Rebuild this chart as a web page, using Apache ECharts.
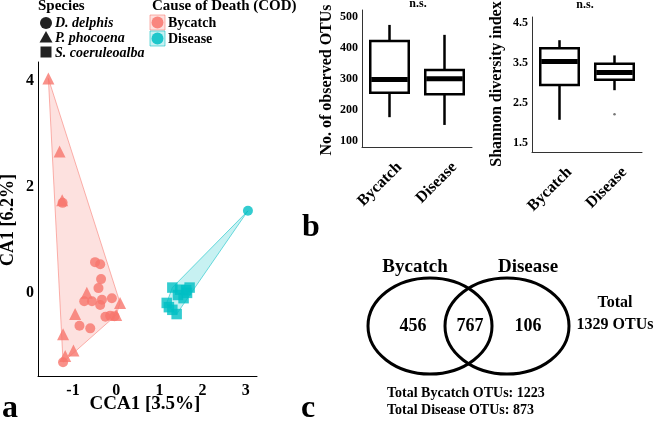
<!DOCTYPE html>
<html><head><meta charset="utf-8">
<script src="https://cdn.jsdelivr.net/npm/echarts@6/dist/echarts.min.js"></script>
<style>html,body{margin:0;padding:0;background:#fff}#c{width:658px;height:428px}</style>
</head><body><div id="c"></div>
<script>
const FONT = "'Liberation Serif','Times New Roman',serif";
const RED = '#F8766D', TEAL = '#00BFC4';

// ---- Panel a: CCA ordination ----
const bycatchDelphis = [[-1.24,1.70],[-0.49,0.58],[-0.37,0.54],[-0.35,0.26],[-0.41,0.09],[-0.74,-0.16],[-0.56,-0.16],[-0.33,-0.13],[-0.10,-0.10],[-0.37,-0.23],[-0.25,-0.45],[-0.14,-0.43],[-0.04,-0.44],[-0.85,-0.62],[-0.60,-0.67],[-1.23,-1.31]];
const bycatchPhocoena = [[-1.57,4.05],[-1.31,2.67],[-1.25,1.75],[-0.68,0.0],[0.09,-0.19],[-0.95,-0.40],[0.00,-0.42],[-1.23,-0.78],[-0.99,-1.09],[-1.18,-1.19]];
const diseaseDelphis = [[3.05,1.55]];
const diseaseCoeruleoalba = [[1.30,0.10],[1.48,0.06],[1.70,0.10],[1.43,-0.04],[1.64,0.0],[1.56,-0.10],[1.62,0.05],[1.17,-0.19],[1.22,-0.27],[1.30,-0.32],[1.40,-0.40]];
const ccaXTicks = [-1,0,1,2,3];
const ccaYTicks = [0,2,4];
const speciesNames = ['D. delphis','P. phocoena','S. coeruleoalba'];
const codNames = ['Bycatch','Disease'];

// ---- Panel b: alpha diversity ----
const boxCategories = ['Bycatch','Disease'];
const otuStats = [[177,256,298,422,474],[152,251,301,329,442]];       // min,Q1,median,Q3,max
const shannonStats = [[2.08,2.95,3.54,3.87,4.07],[2.82,3.08,3.26,3.48,3.69]];
const shannonOutliers = [[1,2.22]];
const otuTicks = [100,200,300,400,500];
const shannonTicks = [1.5,2.5,3.5,4.5];

// ---- Panel c: Venn ----
const vennSets = ['Bycatch','Disease'];
const vennUnique = [456,106];
const vennShared = 767;

function hull(points){
  const p = points.slice().sort((a,b)=>a[0]-b[0]||a[1]-b[1]);
  const cross=(o,a,b)=>(a[0]-o[0])*(b[1]-o[1])-(a[1]-o[1])*(b[0]-o[0]);
  const lower=[],upper=[];
  for(const q of p){while(lower.length>=2&&cross(lower[lower.length-2],lower[lower.length-1],q)<=0)lower.pop();lower.push(q);}
  for(let i=p.length-1;i>=0;i--){const q=p[i];while(upper.length>=2&&cross(upper[upper.length-2],upper[upper.length-1],q)<=0)upper.pop();upper.push(q);}
  upper.pop();lower.pop();return lower.concat(upper);
}
function hullSeries(points, fill, stroke){
  const h = hull(points);
  return {type:'custom', xAxisIndex:0, yAxisIndex:0, data:h, encode:{x:0,y:1}, silent:true, z:1,
    renderItem:(params, api)=>{
      if(params.dataIndex!==0) return null;
      return {type:'polygon', shape:{points:h.map(q=>api.coord(q))}, style:{fill:fill, stroke:stroke, lineWidth:0.8}};
    }};
}
function boxRender(params, api){
  const x = api.value(0);
  const pMin=api.coord([x,api.value(1)]), pQ1=api.coord([x,api.value(2)]), pMed=api.coord([x,api.value(3)]),
        pQ3=api.coord([x,api.value(4)]), pMax=api.coord([x,api.value(5)]);
  const w = api.size([1,0])[0]*0.7, cx=pMed[0];
  return {type:'group', children:[
    {type:'line', shape:{x1:cx,y1:pMax[1],x2:cx,y2:pQ3[1]}, style:{stroke:'#000',lineWidth:2.5}},
    {type:'line', shape:{x1:cx,y1:pQ1[1],x2:cx,y2:pMin[1]}, style:{stroke:'#000',lineWidth:2.5}},
    {type:'rect', shape:{x:cx-w/2,y:pQ3[1],width:w,height:pQ1[1]-pQ3[1]}, style:{fill:'#fff',stroke:'#000',lineWidth:2.5}},
    {type:'line', shape:{x1:cx-w/2+1,y1:pMed[1],x2:cx+w/2-1,y2:pMed[1]}, style:{stroke:'#000',lineWidth:5}}
  ]};
}
const lbl = {fontFamily:FONT, fontWeight:'bold', color:'#000'};
const ptStyle = (c)=>({color:c, opacity:0.8});
const catLabel = Object.assign({fontSize:16, rotate:45, margin:8, verticalAlign:'top', padding:[6,0,0,0]}, lbl);

const chart = echarts.init(document.getElementById('c'), null, {renderer:'canvas'});
const option = {
  animation:false,
  grid:[
    {left:38, top:62, width:219, height:314},
    {left:362, top:10, width:110, height:137},
    {left:532, top:17, width:110, height:135}
  ],
  xAxis:[
    {type:'value', gridIndex:0, min:-1.81, max:3.26, splitLine:{show:false},
     axisLine:{show:true, onZero:false, lineStyle:{color:'#000',width:1}}, axisTick:{show:false},
     axisLabel:Object.assign({fontSize:16, margin:7, customValues:ccaXTicks}, lbl)},
    {type:'category', gridIndex:1, data:boxCategories, axisTick:{show:false},
     axisLine:{lineStyle:{color:'#333',width:1}}, axisLabel:catLabel},
    {type:'category', gridIndex:2, data:boxCategories, axisTick:{show:false},
     axisLine:{lineStyle:{color:'#333',width:1}}, axisLabel:catLabel}
  ],
  yAxis:[
    {type:'value', gridIndex:0, min:-1.57, max:4.36, splitLine:{show:false},
     axisLine:{show:true, onZero:false, lineStyle:{color:'#000',width:1}}, axisTick:{show:false},
     axisLabel:Object.assign({fontSize:16, margin:4, customValues:ccaYTicks}, lbl)},
    {type:'value', gridIndex:1, min:81, max:522, splitLine:{show:false},
     axisLine:{show:true, lineStyle:{color:'#333',width:1}}, axisTick:{show:false},
     axisLabel:Object.assign({fontSize:12, margin:4, customValues:otuTicks}, lbl)},
    {type:'value', gridIndex:2, min:1.275, max:4.65, splitLine:{show:false},
     axisLine:{show:true, lineStyle:{color:'#333',width:1}}, axisTick:{show:false},
     axisLabel:Object.assign({fontSize:12, margin:4, customValues:shannonTicks, formatter:(v)=>v.toFixed(1)}, lbl)}
  ],
  series:[
    hullSeries(bycatchDelphis.concat(bycatchPhocoena), 'rgba(248,118,109,0.22)', 'rgba(248,118,109,0.7)'),
    hullSeries(diseaseDelphis.concat(diseaseCoeruleoalba), 'rgba(0,191,196,0.22)', 'rgba(0,191,196,0.7)'),
    {type:'scatter', xAxisIndex:0, yAxisIndex:0, data:bycatchDelphis, symbol:'circle', symbolSize:10, itemStyle:ptStyle(RED), z:3},
    {type:'scatter', xAxisIndex:0, yAxisIndex:0, data:bycatchPhocoena, symbol:'triangle', symbolSize:12, itemStyle:ptStyle(RED), z:3},
    {type:'scatter', xAxisIndex:0, yAxisIndex:0, data:diseaseDelphis, symbol:'circle', symbolSize:10, itemStyle:ptStyle(TEAL), z:3},
    {type:'scatter', xAxisIndex:0, yAxisIndex:0, data:diseaseCoeruleoalba, symbol:'rect', symbolSize:10.5, itemStyle:ptStyle(TEAL), z:3},
    {type:'custom', xAxisIndex:1, yAxisIndex:1, data:otuStats.map((s,i)=>[i].concat(s)), encode:{x:0,y:[1,2,3,4,5]}, renderItem:boxRender},
    {type:'custom', xAxisIndex:2, yAxisIndex:2, data:shannonStats.map((s,i)=>[i].concat(s)), encode:{x:0,y:[1,2,3,4,5]}, renderItem:boxRender},
    {type:'scatter', xAxisIndex:2, yAxisIndex:2, data:shannonOutliers, symbolSize:2.5, itemStyle:{color:'#555'}}
  ],
  graphic:[
    // legend: species
    {type:'text', left:38, top:-1, style:{text:'Species', font:'bold 15px '+FONT, fill:'#000'}},
    {type:'circle', shape:{cx:46, cy:23, r:6}, style:{fill:'#222'}},
    {type:'polygon', shape:{points:[[46,31],[39.5,42.5],[52.5,42.5]]}, style:{fill:'#222'}},
    {type:'rect', shape:{x:40.5, y:46.5, width:11, height:11}, style:{fill:'#222'}},
    {type:'text', x:55, y:23, style:{text:speciesNames[0], font:'italic bold 14px '+FONT, fill:'#000', verticalAlign:'middle'}},
    {type:'text', x:55, y:38, style:{text:speciesNames[1], font:'italic bold 14px '+FONT, fill:'#000', verticalAlign:'middle'}},
    {type:'text', x:55, y:53, style:{text:speciesNames[2], font:'italic bold 14px '+FONT, fill:'#000', verticalAlign:'middle'}},
    // legend: COD
    {type:'text', left:152, top:-1, style:{text:'Cause of Death (COD)', font:'bold 15px '+FONT, fill:'#000'}},
    {type:'rect', shape:{x:150, y:15, width:15, height:15}, style:{fill:'rgba(248,118,109,0.22)', stroke:'rgba(248,118,109,0.7)', lineWidth:0.8}},
    {type:'circle', shape:{cx:157.5, cy:22.5, r:6}, style:{fill:RED, opacity:0.85}},
    {type:'rect', shape:{x:150, y:31, width:15, height:15}, style:{fill:'rgba(0,191,196,0.22)', stroke:'rgba(0,191,196,0.7)', lineWidth:0.8}},
    {type:'circle', shape:{cx:157.5, cy:38.5, r:6}, style:{fill:TEAL, opacity:0.85}},
    {type:'text', x:168, y:23, style:{text:codNames[0], font:'bold 14px '+FONT, fill:'#000', verticalAlign:'middle'}},
    {type:'text', x:168, y:39, style:{text:codNames[1], font:'bold 14px '+FONT, fill:'#000', verticalAlign:'middle'}},
    // axis names panel a
    {type:'text', x:145, y:404, style:{text:'CCA1 [3.5%]', font:'bold 19px '+FONT, fill:'#000', align:'center', verticalAlign:'middle'}},
    {type:'text', x:8, y:220, rotation:Math.PI/2, style:{text:'CA1 [6.2%]', font:'bold 18px '+FONT, fill:'#000', align:'center', verticalAlign:'middle'}},
    // panel b names
    {type:'text', x:327, y:80, rotation:Math.PI/2, style:{text:'No. of observed OTUs', font:'bold 16px '+FONT, fill:'#000', align:'center', verticalAlign:'middle'}},
    {type:'text', x:497, y:84, rotation:Math.PI/2, style:{text:'Shannon diversity index', font:'bold 16px '+FONT, fill:'#000', align:'center', verticalAlign:'middle'}},
    {type:'text', x:418, y:4, style:{text:'n.s.', font:'bold 12px '+FONT, fill:'#000', align:'center', verticalAlign:'middle'}},
    {type:'text', x:585, y:5, style:{text:'n.s.', font:'bold 12px '+FONT, fill:'#000', align:'center', verticalAlign:'middle'}},
    // panel letters
    {type:'text', x:2, y:425, style:{text:'a', font:'bold 32px '+FONT, fill:'#000', verticalAlign:'bottom'}},
    {type:'text', x:302, y:244, style:{text:'b', font:'bold 32px '+FONT, fill:'#000', verticalAlign:'bottom'}},
    {type:'text', x:301, y:425, style:{text:'c', font:'bold 32px '+FONT, fill:'#000', verticalAlign:'bottom'}},
    // Venn
    {type:'ellipse', shape:{cx:430, cy:326, rx:62, ry:48}, style:{fill:'none', stroke:'#000', lineWidth:3}},
    {type:'ellipse', shape:{cx:507, cy:326, rx:62, ry:48}, style:{fill:'none', stroke:'#000', lineWidth:3}},
    {type:'text', x:415, y:267, style:{text:vennSets[0], font:'bold 19px '+FONT, fill:'#000', align:'center', verticalAlign:'middle'}},
    {type:'text', x:528, y:267, style:{text:vennSets[1], font:'bold 19px '+FONT, fill:'#000', align:'center', verticalAlign:'middle'}},
    {type:'text', x:413, y:326, style:{text:String(vennUnique[0]), font:'bold 18px '+FONT, fill:'#000', align:'center', verticalAlign:'middle'}},
    {type:'text', x:470, y:326, style:{text:String(vennShared), font:'bold 18px '+FONT, fill:'#000', align:'center', verticalAlign:'middle'}},
    {type:'text', x:528, y:326, style:{text:String(vennUnique[1]), font:'bold 18px '+FONT, fill:'#000', align:'center', verticalAlign:'middle'}},
    {type:'text', x:615, y:303, style:{text:'Total', font:'bold 16px '+FONT, fill:'#000', align:'center', verticalAlign:'middle'}},
    {type:'text', x:615, y:325, style:{text:(vennUnique[0]+vennUnique[1]+vennShared)+' OTUs', font:'bold 16px '+FONT, fill:'#000', align:'center', verticalAlign:'middle'}},
    {type:'text', x:387, y:393, style:{text:'Total '+vennSets[0]+' OTUs: '+(vennUnique[0]+vennShared), font:'bold 14px '+FONT, fill:'#000', verticalAlign:'middle'}},
    {type:'text', x:387, y:410, style:{text:'Total '+vennSets[1]+' OTUs: '+(vennUnique[1]+vennShared), font:'bold 14px '+FONT, fill:'#000', verticalAlign:'middle'}}
  ]
};
chart.setOption(option);
</script></body></html>
